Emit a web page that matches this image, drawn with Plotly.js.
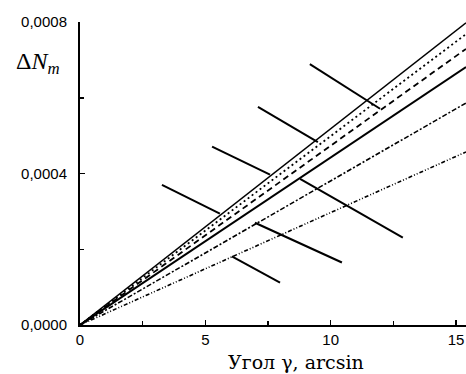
<!DOCTYPE html>
<html>
<head>
<meta charset="utf-8">
<script src="https://cdn.plot.ly/plotly-3.0.1.min.js"></script>
<style>html,body{margin:0;padding:0;background:#fff}#chart{width:466px;height:374px}</style>
</head>
<body>
<div id="chart"></div>
<script>
// Series: straight lines from the origin (x in angle units, y = ΔN_m)
const xEnds = [0, 15.4];
const lineA = [0, 0.000798];   // thin solid (top)
const lineB = [0, 0.000768];   // dotted
const lineD = [0, 0.000729];   // dashed
const lineE = [0, 0.000681];   // solid
const lineF = [0, 0.000586];   // dash-dot
const lineG = [0, 0.000457];   // dash-dot-dot

// Pointer segments (x pairs, y pairs)
const seg1x = [9.17, 11.97], seg1y = [0.000689, 0.000571];
const seg2x = [7.10, 9.49],  seg2y = [0.000576, 0.000483];
const seg3ax = [5.27, 7.58], seg3ay = [0.000471, 0.000397];
const seg3bx = [8.78, 12.88], seg3by = [0.000386, 0.000231];
const seg4ax = [3.27, 5.58], seg4ay = [0.000370, 0.000294];
const seg4bx = [6.98, 10.45], seg4by = [0.000270, 0.000165];
const seg5x = [6.06, 7.98], seg5y = [0.000181, 0.000112];

// Tick labels
const xTickVals = [0, 5, 10, 15];
const xTickText = ['0', '5', '10', '15'];
const xMinorVals = [2.5, 7.5, 12.5];
const yTickVals = [0, 0.0004, 0.0008];
const yTickText = ['0,0000', '0,0004', '0,0008'];
const yMinorVals = [0.0002, 0.0006];

const yTitleText = 'Δ<i>N<sub>m</sub></i>';
const xTitleText = 'Угол γ, arcsin';

function ln(x, y, dash, w) {
  return {x: x, y: y, mode: 'lines', type: 'scatter', hoverinfo: 'skip',
          line: {color: '#000', width: w, dash: dash}};
}

const traces = [
  ln(xEnds, lineA, 'solid', 1.4),
  ln(xEnds, lineB, '2px,3px', 1.8),
  ln(xEnds, lineD, '6px,4px', 1.8),
  ln(xEnds, lineE, 'solid', 2),
  ln(xEnds, lineF, '5px,2px,2px,2px', 1.6),
  ln(xEnds, lineG, '4px,2px,1px,2px,1px,2px', 1.6),
  ln(seg1x, seg1y, 'solid', 2),
  ln(seg2x, seg2y, 'solid', 2),
  ln(seg3ax, seg3ay, 'solid', 2),
  ln(seg3bx, seg3by, 'solid', 2),
  ln(seg4ax, seg4ay, 'solid', 2),
  ln(seg4bx, seg4by, 'solid', 2),
  ln(seg5x, seg5y, 'solid', 2)
];

const layout = {
  width: 466, height: 374,
  margin: {l: 80, r: 0, t: 22, b: 49, pad: 0},
  paper_bgcolor: '#fff', plot_bgcolor: '#fff',
  showlegend: false,
  font: {family: 'Liberation Sans, Arial, sans-serif', size: 15, color: '#000'},
  xaxis: {
    range: [0, 15.4], showgrid: false, zeroline: false,
    showline: true, linecolor: '#000', linewidth: 2,
    ticks: 'inside', ticklen: 5, tickwidth: 1.5, tickcolor: '#000',
    tickmode: 'array', tickvals: xTickVals, ticktext: xTickText,
    minor: {tickmode: 'array', tickvals: xMinorVals, ticks: 'inside', ticklen: 4, tickwidth: 1.5, tickcolor: '#000'},
    tickfont: {size: 15}, fixedrange: true
  },
  yaxis: {
    range: [0, 0.0008], showgrid: false, zeroline: false,
    showline: true, linecolor: '#000', linewidth: 2,
    ticks: 'inside', ticklen: 5, tickwidth: 1.5, tickcolor: '#000',
    tickmode: 'array', tickvals: yTickVals, ticktext: yTickText,
    minor: {tickmode: 'array', tickvals: yMinorVals, ticks: 'inside', ticklen: 4, tickwidth: 1.5, tickcolor: '#000'},
    tickfont: {size: 15}, ticklabelstandoff: 8, fixedrange: true
  },
  annotations: [
    {text: yTitleText, xref: 'paper', yref: 'paper',
     x: -0.11, y: 0.865, xanchor: 'center', yanchor: 'middle', showarrow: false,
     font: {family: 'Liberation Serif, DejaVu Serif, serif', size: 24, color: '#000'}},
    {text: xTitleText, xref: 'paper', yref: 'paper',
     x: 0.56, y: -0.122, xanchor: 'center', yanchor: 'middle', showarrow: false,
     font: {family: 'DejaVu Serif, serif', size: 19, color: '#000'}}
  ]
};

Plotly.newPlot('chart', traces, layout, {staticPlot: true, displayModeBar: false});
</script>
</body>
</html>
